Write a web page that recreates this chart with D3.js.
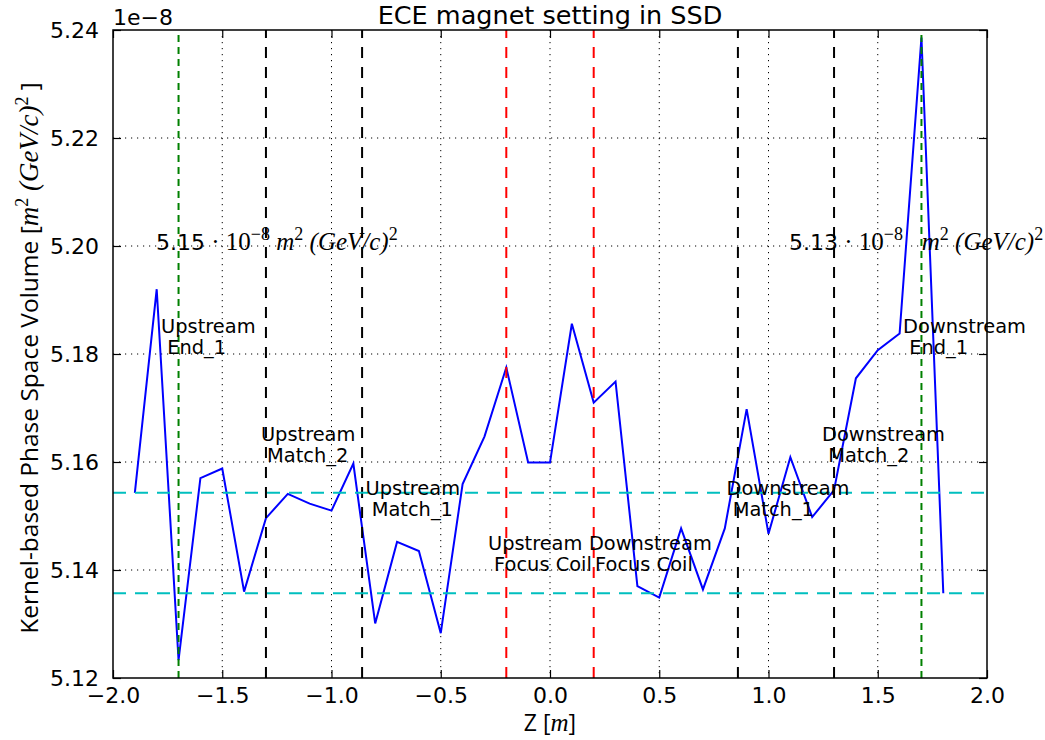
<!DOCTYPE html>
<html>
<head>
<meta charset="utf-8">
<script src="https://cdn.jsdelivr.net/npm/d3@7"></script>
<style>
  body { margin: 0; background: #fff; }
  svg { display: block; }
  text { white-space: pre; }
</style>
</head>
<body>
<svg id="chart" width="1045" height="740"></svg>
<script>
// ---- data (volume in units of 1e-8 m^2 (GeV/c)^2) ----
const zPositions = [-1.9, -1.8, -1.7, -1.6, -1.5, -1.4, -1.3, -1.2, -1.1, -1.0,
  -0.9, -0.8, -0.7, -0.6, -0.5, -0.4, -0.3, -0.2, -0.1, 0.0,
  0.1, 0.2, 0.3, 0.4, 0.5, 0.6, 0.7, 0.8, 0.9, 1.0,
  1.1, 1.2, 1.3, 1.4, 1.5, 1.6, 1.7, 1.8];
const volume = [5.1543, 5.1920, 5.1233, 5.1570, 5.1588, 5.1360, 5.1496, 5.1541, 5.1523, 5.1510,
  5.1597, 5.1301, 5.1452, 5.1435, 5.1283, 5.1559, 5.1647, 5.1775, 5.1599, 5.1599,
  5.1856, 5.1710, 5.1749, 5.1370, 5.1349, 5.1477, 5.1364, 5.1477, 5.1698, 5.1467,
  5.1609, 5.1498, 5.1548, 5.1755, 5.1807, 5.1838, 5.2386, 5.1357];
const referenceLevels = [5.1543, 5.1357];
const markerZ = [-1.7, -1.3, -0.86, -0.2, 0.2, 0.86, 1.3, 1.7];
const markerKind = ["end", "match", "match", "focus", "focus", "match", "match", "end"];
const labelLines = [
  ["Upstream", " End_1"], ["Upstream", " Match_2"], ["Upstream", " Match_1"],
  ["Upstream", " Focus Coil"], ["Downstream", " Focus Coil"], ["Downstream", " Match_1"],
  ["Downstream", " Match_2"], ["Downstream", " End_1"]];
const labelZ = [-1.78, -1.323, -0.844, -0.284, 0.178, 0.808, 1.245, 1.616];
const labelV = [5.1839, 5.1638, 5.1538, 5.1437, 5.1437, 5.1539, 5.1638, 5.1839];
const summaryValues = ["5.15", "5.13"];
const summaryZ = [-1.803, 1.094];
const summaryV = [5.1993, 5.1993];
const xTicks = [-2.0, -1.5, -1.0, -0.5, 0.0, 0.5, 1.0, 1.5, 2.0];
const yTicks = [5.12, 5.14, 5.16, 5.18, 5.20, 5.22, 5.24];

// ---- layout ----
const svg = d3.select("#chart");
const L = 113, R = 987, T = 30, B = 678;
const x = d3.scaleLinear().domain([-2, 2]).range([L, R]);
const y = d3.scaleLinear().domain([5.12, 5.24]).range([B, T]);
const kindColor = { end: "#008000", match: "#000000", focus: "#ff0000" };
const kindDash = { end: "7,5", match: "11,9", focus: "11,9" };
const sans = "DejaVu Sans";
const serif = "Liberation Serif";

svg.append("defs").append("clipPath").attr("id", "clip")
  .append("rect").attr("x", L).attr("y", T).attr("width", R - L).attr("height", B - T);

// grid
const grid = svg.append("g");
grid.selectAll(".gx").data(xTicks.slice(1, -1)).join("line")
  .attr("x1", d => x(d)).attr("x2", d => x(d)).attr("y1", T).attr("y2", B)
  .attr("stroke", "#000").attr("stroke-width", 1).attr("stroke-dasharray", "1.2,4.8");
grid.selectAll(".gy").data(yTicks.slice(1, -1)).join("line")
  .attr("y1", d => y(d)).attr("y2", d => y(d)).attr("x1", L).attr("x2", R)
  .attr("stroke", "#000").attr("stroke-width", 1).attr("stroke-dasharray", "1.2,4.8");

// data line
const plot = svg.append("g").attr("clip-path", "url(#clip)");
plot.append("path").datum(zPositions.map((z, i) => [z, volume[i]]))
  .attr("fill", "none").attr("stroke", "#0000ff").attr("stroke-width", 2)
  .attr("stroke-linejoin", "miter")
  .attr("d", d3.line().x(d => x(d[0])).y(d => y(d[1])));

// vertical markers
plot.selectAll(".vm").data(markerZ).join("line")
  .attr("x1", d => x(d)).attr("x2", d => x(d))
  .attr("y1", B).attr("y2", T)
  .attr("stroke", (d, i) => kindColor[markerKind[i]])
  .attr("stroke-width", 2)
  .attr("stroke-dasharray", (d, i) => kindDash[markerKind[i]]);

// horizontal reference levels
plot.selectAll(".hl").data(referenceLevels).join("line")
  .attr("x1", L).attr("x2", R).attr("y1", d => y(d)).attr("y2", d => y(d))
  .attr("stroke", "#00bfbf").attr("stroke-width", 2).attr("stroke-dasharray", "13,9");

// frame
svg.append("rect").attr("x", L).attr("y", T).attr("width", R - L).attr("height", B - T)
  .attr("fill", "none").attr("stroke", "#000").attr("stroke-width", 1.5);

// axes (inward ticks on all sides)
const tk = 8;
const axB = svg.append("g").attr("transform", `translate(0,${B})`)
  .call(d3.axisBottom(x).tickValues(xTicks).tickSizeInner(-tk).tickSizeOuter(0)
    .tickPadding(9).tickFormat(d => d3.format(".1f")(d).replace("-", "\u2212")));
const axT = svg.append("g").attr("transform", `translate(0,${T})`)
  .call(d3.axisTop(x).tickValues(xTicks).tickSizeInner(-tk).tickSizeOuter(0).tickFormat(""));
const axL = svg.append("g").attr("transform", `translate(${L},0)`)
  .call(d3.axisLeft(y).tickValues(yTicks).tickSizeInner(-tk).tickSizeOuter(0)
    .tickPadding(14).tickFormat(d3.format(".2f")));
const axR = svg.append("g").attr("transform", `translate(${R},0)`)
  .call(d3.axisRight(y).tickValues(yTicks).tickSizeInner(-tk).tickSizeOuter(0).tickFormat(""));
[axB, axT, axL, axR].forEach(a => {
  a.select(".domain").remove();
  a.selectAll(".tick line").attr("stroke", "#000").attr("stroke-width", 1.2);
  a.selectAll(".tick text").attr("font-family", sans).attr("font-size", 22).attr("fill", "#000");
});
axB.selectAll(".tick text").attr("dy", "0.71em");

// offset text
svg.append("text").attr("x", L).attr("y", 25).attr("font-family", sans).attr("font-size", 22)
  .text("1e\u22128");

// title
svg.append("text").attr("x", (L + R) / 2).attr("y", 24).attr("text-anchor", "middle")
  .attr("font-family", sans).attr("font-size", 25.5).text("ECE magnet setting in SSD");

// x label
const xl = svg.append("text").attr("x", (L + R) / 2).attr("y", 731).attr("text-anchor", "middle")
  .attr("font-family", "Open Sans").attr("font-size", 23);
xl.append("tspan").text("Z [");
xl.append("tspan").attr("font-family", serif).attr("font-style", "italic").attr("font-size", 25).text("m");
xl.append("tspan").text("]");

// y label
const yl = svg.append("text").attr("transform", `translate(38,${(T + B) / 2 + 4}) rotate(-90)`)
  .attr("text-anchor", "middle").attr("font-family", "Open Sans").attr("font-size", 24.5);
yl.append("tspan").text("Kernel-based Phase Space Volume [");
const ylm = yl.append("tspan").attr("font-family", serif).attr("font-style", "italic").attr("font-size", 27);
ylm.append("tspan").text("m");
ylm.append("tspan").attr("dy", -10).attr("font-size", 18).attr("font-style", "normal").text("2");
ylm.append("tspan").attr("dy", 10).text(" (GeV/c)");
ylm.append("tspan").attr("dy", -10).attr("font-size", 18).attr("font-style", "normal").text("2");
yl.append("tspan").attr("dy", 10).text(" ]");

// marker labels
const lab = svg.append("g");
labelLines.forEach((lines, i) => {
  const t = lab.append("text").attr("font-family", sans).attr("font-size", 19.4).attr("fill", "#000");
  lines.forEach((s, j) => {
    t.append("tspan").attr("x", x(labelZ[i])).attr("y", y(labelV[i]) + j * 21).text(s);
  });
});

// summary annotations
summaryValues.forEach((v, i) => {
  const t = svg.append("text").attr("x", x(summaryZ[i])).attr("y", y(summaryV[i]))
    .attr("font-family", sans).attr("font-size", 22);
  t.append("tspan").text(v);
  const m = t.append("tspan").attr("font-family", serif).attr("font-style", "italic").attr("font-size", 25);
  m.append("tspan").attr("font-style", "normal").text(" \u00b7 10");
  m.append("tspan").attr("dy", -10).attr("font-size", 18).attr("font-style", "normal").text("\u22128");
  m.append("tspan").attr("dy", 10).text(i === 0 ? " m" : "   m");
  m.append("tspan").attr("dy", -10).attr("font-size", 18).attr("font-style", "normal").text("2");
  m.append("tspan").attr("dy", 10).text(" (GeV/c)");
  m.append("tspan").attr("dy", -10).attr("font-size", 18).attr("font-style", "normal").text("2");
});
</script>
</body>
</html>
